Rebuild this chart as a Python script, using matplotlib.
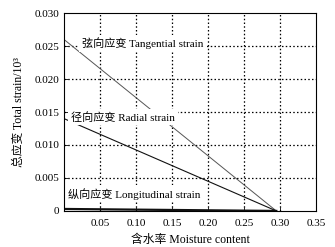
import matplotlib
matplotlib.use("Agg")
import matplotlib.pyplot as plt

plt.rcParams['font.family'] = ['Liberation Serif', 'Noto Sans CJK SC']

# data
moisture = [0.0, 0.295]
tangential = [0.026, 0.0]
radial = [0.014, 0.0]
longitudinal = [0.0003, 0.0]

xticks = [0.05, 0.10, 0.15, 0.20, 0.25, 0.30, 0.35]
xticklabels = ['0.05', '0.10', '0.15', '0.20', '0.25', '0.30', '0.35']
yticks = [0, 0.005, 0.010, 0.015, 0.020, 0.025, 0.030]
yticklabels = ['0', '0.005', '0.010', '0.015', '0.020', '0.025', '0.030']

labels = ['弦向应变 Tangential strain', '径向应变 Radial strain', '纵向应变 Longitudinal strain']
label_pos = [(0.0245, 0.0254), (0.0097, 0.0142), (0.0056, 0.0026)]

fig = plt.figure(figsize=(3.35, 2.47), dpi=100)
ax = fig.add_axes([0.191, 0.146, 0.752, 0.801])

for xv in xticks[:-1]:
    ax.axvline(xv, color='black', lw=0.9, linestyle=(0, (1.2, 1.8)), zorder=1)
for yv in yticks[1:-1]:
    ax.axhline(yv, color='black', lw=0.9, linestyle=(0, (1.2, 1.8)), zorder=1)

ax.plot(moisture, tangential, color='#555555', lw=0.7, zorder=2)
ax.plot(moisture, radial, color='#111111', lw=0.8, zorder=2)
ax.plot(moisture, longitudinal, color='#111111', lw=1.6, zorder=2)

for t, (x, y) in zip(labels, label_pos):
    ax.text(x, y, t, fontsize=8, va='center', ha='left', zorder=4,
            bbox=dict(facecolor='white', edgecolor='none', pad=2.0))

ax.set_xlim(0, 0.35)
ax.set_ylim(0, 0.030)
ax.set_xticks(xticks)
ax.set_xticklabels(xticklabels)
ax.set_yticks(yticks)
ax.set_yticklabels(yticklabels)
ax.tick_params(direction='in', length=3, labelsize=8, width=0.6)
ax.tick_params(axis='x', pad=6)
for s in ax.spines.values():
    s.set_linewidth(0.8)
    s.set_zorder(5)

ax.set_xlabel('含水率 Moisture content', fontsize=8.5, labelpad=4)
ax.set_ylabel('总应变 Total strain/10³', fontsize=8.5, labelpad=7)

fig.savefig('out.png', dpi=100)
